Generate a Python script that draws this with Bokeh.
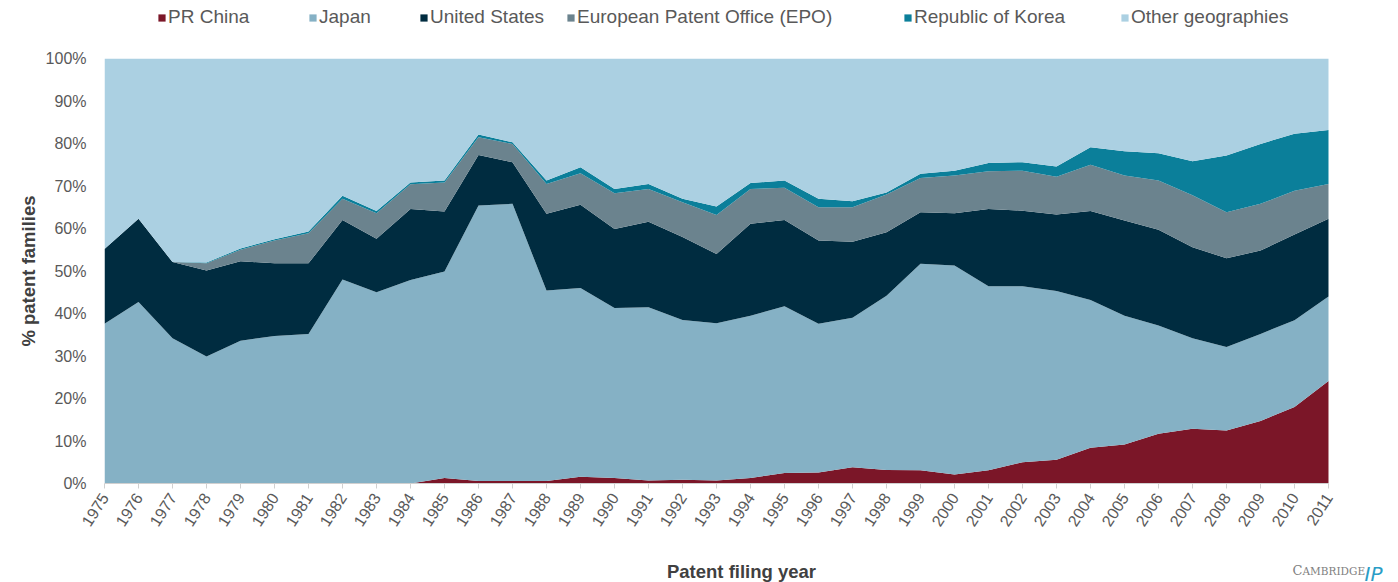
from bokeh.plotting import figure
from bokeh.layouts import column
from bokeh.models import (ColumnDataSource, Range1d, FixedTicker, PrintfTickFormatter,
                          Legend, LegendItem)
from bokeh.core.properties import value
from bokeh.embed import file_html
from bokeh.resources import INLINE

years = list(range(1975, 2012))
china = [0, 0, 0, 0, 0, 0, 0, 0, 0, 0, 1.3, 0.6, 0.6, 0.6, 1.6, 1.3, 0.7, 0.9, 0.7, 1.3,
         2.5, 2.6, 3.8, 3.2, 3.1, 2.1, 3.1, 5.0, 5.6, 8.4, 9.2, 11.7, 12.9, 12.5, 14.7, 18.0, 24.1]
japan = [37.6, 42.7, 34.2, 29.9, 33.6, 34.7, 35.2, 48.0, 45.0, 47.9, 48.6, 64.8, 65.2, 44.8,
         44.4, 40.0, 40.8, 37.6, 37.0, 38.2, 39.2, 35.0, 35.2, 41.0, 48.6, 49.2, 43.3, 41.4,
         39.7, 34.8, 30.3, 25.5, 21.3, 19.6, 20.5, 20.4, 19.9]
us = [17.6, 19.6, 17.9, 20.2, 18.7, 17.1, 16.6, 14.0, 12.6, 16.7, 14.1, 11.9, 9.8, 18.1,
      19.6, 18.6, 20.1, 19.5, 16.3, 21.6, 20.3, 19.6, 17.9, 14.9, 12.1, 12.3, 18.2, 17.8,
      18.0, 20.9, 22.4, 22.5, 21.4, 20.9, 19.6, 20.2, 18.3]
epo = [0, 0, 0, 1.7, 2.7, 5.4, 7.1, 5.0, 6.0, 5.8, 6.8, 4.2, 4.3, 7.0, 7.4, 8.4, 7.7, 8.2,
       9.2, 8.2, 7.6, 7.8, 8.1, 8.9, 8.1, 8.9, 8.9, 9.4, 8.9, 10.9, 10.6, 11.6, 12.2, 10.8,
       11.0, 10.3, 8.2]
korea = [0, 0, 0, 0.2, 0.3, 0.3, 0.4, 0.7, 0.5, 0.4, 0.5, 0.6, 0.4, 0.8, 1.4, 1.0, 1.2, 0.8,
         2.0, 1.4, 1.7, 2.0, 1.4, 0.5, 1.0, 1.1, 1.9, 2.0, 2.4, 4.1, 5.7, 6.4, 8.0, 13.4,
         14.1, 13.4, 12.7]
other = [round(100 - (c + j + u + e + k), 1) for c, j, u, e, k in zip(china, japan, us, epo, korea)]

series_names = ["PR China", "Japan", "United States", "European Patent Office (EPO)",
                "Republic of Korea", "Other geographies"]
series_keys = ["china", "japan", "us", "epo", "korea", "other"]
colors = ["#7B1628", "#85B1C5", "#002C40", "#6B838E", "#0B7F9A", "#ABD0E2"]
y_ticks = list(range(0, 101, 10))

W = 1398
LEFT = 104                      # plot area starts at x = 104 px
PX_PER_YEAR = 34.0              # 1224 px for 36 years
EXTRA_RIGHT = 70                # white space right of 2011 (room for logo in bottom strip)
FONT = "Liberation Sans"

source = ColumnDataSource(dict(year=years, china=china, japan=japan, us=us, epo=epo,
                               korea=korea, other=other))

# ---------------- legend strip (top) ----------------
p0 = figure(width=W, height=40, output_backend="svg", toolbar_location=None,
            x_range=Range1d(1975, 2011 + EXTRA_RIGHT / PX_PER_YEAR), y_range=Range1d(1000, 1040),
            x_axis_type=None, y_axis_type=None, min_border=0,
            min_border_left=LEFT, min_border_right=0)
p0.outline_line_color = None
# legend swatches come from stacked areas that lie outside this strip's visible range
legend_renderers = p0.varea_stack(stackers=series_keys, x="year", color=colors, source=source)
legend_px = [157, 308, 419, 566, 903, 1120]
for name, r, lx in zip(series_names, legend_renderers, legend_px):
    lg = Legend(items=[LegendItem(label=name, renderers=[r])], location=(lx - LEFT, 12),
                orientation="horizontal", padding=0, margin=0, border_line_color=None,
                background_fill_alpha=0, label_text_font=FONT, label_text_font_size="19px",
                label_text_color="#595959", glyph_width=9, glyph_height=9,
                label_standoff=2, label_height=20)
    p0.add_layout(lg)

# ---------------- main chart ----------------
p = figure(width=W, height=516, output_backend="svg", toolbar_location=None,
           x_range=Range1d(1975, 2011 + EXTRA_RIGHT / PX_PER_YEAR), y_range=Range1d(0, 100),
           min_border_left=LEFT, min_border_right=0, min_border_top=18, min_border_bottom=73)
p.outline_line_color = None
p.xgrid.grid_line_color = None
p.ygrid.grid_line_color = None

p.varea_stack(stackers=series_keys, x="year", color=colors, source=source)

xa = p.xaxis[0]
xa.bounds = (1975, 2011)
xa.ticker = FixedTicker(ticks=years)
xa.major_label_orientation = 1.0
xa.major_label_text_font = FONT
xa.major_label_text_font_size = "16px"
xa.major_label_text_color = "#595959"
xa.major_tick_out = 5
xa.major_tick_in = 0
xa.major_tick_line_color = "#D0D0D0"
xa.minor_tick_line_color = None
xa.axis_line_color = "#D0D0D0"
xa.major_label_standoff = 6

ya = p.yaxis[0]
ya.ticker = FixedTicker(ticks=y_ticks)
ya.formatter = PrintfTickFormatter(format="%d%%")
ya.major_label_text_font = FONT
ya.major_label_text_font_size = "16px"
ya.major_label_text_color = "#595959"
ya.major_tick_out = 0
ya.major_tick_in = 0
ya.minor_tick_line_color = None
ya.axis_line_color = None
ya.major_label_standoff = 18
ya.axis_label = "% patent families"
ya.axis_label_text_font = FONT
ya.axis_label_text_font_style = "bold"
ya.axis_label_text_font_size = "18.5px"
ya.axis_label_text_color = "#404040"
ya.axis_label_standoff = 4

# ---------------- bottom strip: x axis title + logo ----------------
p2 = figure(width=W, height=26, output_backend="svg", toolbar_location=None,
            x_range=Range1d(LEFT, W), y_range=Range1d(0, 26),
            x_axis_type=None, y_axis_type=None, min_border=0,
            min_border_left=LEFT, min_border_right=0)
p2.outline_line_color = None
p2.text(x=[741], y=[11], text=["Patent filing year"], text_font=value(FONT),
        text_font_style="bold", text_font_size="18.5px", text_color="#404040",
        text_align="center", text_baseline="middle")
p2.text(x=[1292], y=[12], text=["C"], text_font=value("DejaVu Serif"),
        text_font_size="13px", text_color="#808080", text_baseline="alphabetic")
p2.text(x=[1302], y=[12], text=["AMBRIDGE"], text_font=value("DejaVu Serif"),
        text_font_size="10.5px", text_color="#808080", text_baseline="alphabetic")
p2.text(x=[1364], y=[9], text=["IP"], text_font=value("DejaVu Sans"),
        text_font_style="italic", text_font_size="20px", text_color="#2A9DC6",
        text_baseline="alphabetic")

layout = column(p0, p, p2, spacing=0)
open("out.html", "w").write(file_html(layout, INLINE))
